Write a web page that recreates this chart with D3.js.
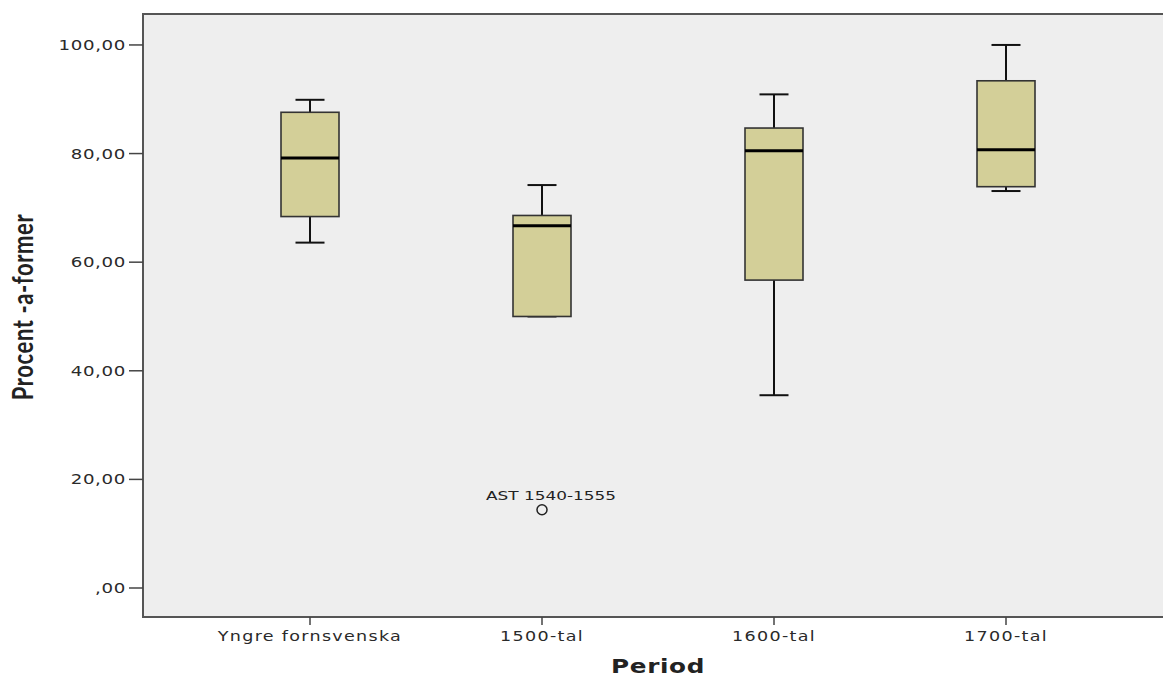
<!DOCTYPE html>
<html>
<head>
<meta charset="utf-8">
<script src="https://cdn.jsdelivr.net/npm/d3@7"></script>
<style>
  body { margin: 0; background: #fff; }
  text { font-family: "DejaVu Sans", sans-serif; fill: #2a2a2a; }
</style>
</head>
<body>
<div id="chart"></div>
<script>
var categories = ["Yngre fornsvenska", "1500-tal", "1600-tal", "1700-tal"];
var whiskerLow  = [63.6, 50.0, 35.5, 73.1];
var q1          = [68.4, 50.0, 56.7, 73.9];
var median      = [79.2, 66.7, 80.5, 80.7];
var q3          = [87.6, 68.6, 84.7, 93.4];
var whiskerHigh = [89.9, 74.2, 90.9, 100.0];
var outlierCats   = ["1500-tal"];
var outlierValues = [14.4];
var outlierLabels = ["AST 1540-1555"];
var yTicks = [0, 20, 40, 60, 80, 100];

var width = 1163, height = 677;
var plot = {left: 143, top: 14, right: 1175, bottom: 617};
var stretch = 1.3; // the glyphs in the source are wide

var svg = d3.select("#chart").append("svg")
    .attr("width", width)
    .attr("height", height);

var x = d3.scalePoint().domain(categories).range([310, 1006]);
var y = d3.scaleLinear().domain([-5.34, 105.7]).range([plot.bottom, plot.top]);

// plot background + frame
svg.append("rect")
    .attr("x", plot.left).attr("y", plot.top)
    .attr("width", plot.right - plot.left).attr("height", plot.bottom - plot.top)
    .attr("fill", "#eeeeee")
    .attr("stroke", "#555").attr("stroke-width", 2);

// y axis ticks
var yt = svg.append("g");
yt.selectAll("line").data(yTicks).enter().append("line")
    .attr("x1", plot.left - 14).attr("x2", plot.left)
    .attr("y1", function(d) { return y(d); }).attr("y2", function(d) { return y(d); })
    .attr("stroke", "#444").attr("stroke-width", 1.5);
yt.selectAll("text").data(yTicks).enter().append("text")
    .attr("transform", function(d) { return "translate(" + (plot.left - 17) + "," + y(d) + ") scale(" + stretch + ",1)"; })
    .attr("text-anchor", "end")
    .attr("dy", "0.36em")
    .style("font-size", "14px").style("letter-spacing", "0.5px")
    .text(function(d) { return (d === 0 ? "" : d) + ",00"; });

// x axis ticks
var xt = svg.append("g");
xt.selectAll("line").data(categories).enter().append("line")
    .attr("x1", function(d) { return x(d); }).attr("x2", function(d) { return x(d); })
    .attr("y1", plot.bottom).attr("y2", plot.bottom + 8)
    .attr("stroke", "#444").attr("stroke-width", 1.5);
xt.selectAll("text").data(categories).enter().append("text")
    .attr("transform", function(d) { return "translate(" + x(d) + "," + (plot.bottom + 24) + ") scale(" + stretch + ",1)"; })
    .attr("text-anchor", "middle")
    .style("font-size", "13.5px").style("letter-spacing", "1px")
    .text(function(d) { return d; });

// axis titles
svg.append("text")
    .attr("transform", "translate(" + 658 + "," + 673 + ") scale(" + stretch + ",1)")
    .attr("text-anchor", "middle")
    .style("font-size", "19px").style("font-weight", "bold").style("fill", "#222")
    .style("letter-spacing", "0.5px")
    .text("Period");
svg.append("text")
    .attr("transform", "translate(" + 33 + "," + 307 + ") scale(" + stretch + ",1) rotate(-90)")
    .attr("text-anchor", "middle")
    .style("font-family", "Lato, sans-serif")
    .style("font-size", "22px").style("font-weight", "bold").style("fill", "#222")
    .style("letter-spacing", "0.6px")
    .text("Procent -a-former");

// boxes
var boxW = 58, capW = 29;
var boxes = svg.append("g").selectAll("g").data(categories).enter().append("g");

boxes.append("line")
    .attr("x1", function(d) { return x(d); }).attr("x2", function(d) { return x(d); })
    .attr("y1", function(d, i) { return y(whiskerLow[i]); })
    .attr("y2", function(d, i) { return y(whiskerHigh[i]); })
    .attr("stroke", "#111").attr("stroke-width", 2);
boxes.append("line")
    .attr("x1", function(d) { return x(d) - capW / 2; }).attr("x2", function(d) { return x(d) + capW / 2; })
    .attr("y1", function(d, i) { return y(whiskerHigh[i]); })
    .attr("y2", function(d, i) { return y(whiskerHigh[i]); })
    .attr("stroke", "#111").attr("stroke-width", 2);
boxes.append("line")
    .attr("x1", function(d) { return x(d) - capW / 2; }).attr("x2", function(d) { return x(d) + capW / 2; })
    .attr("y1", function(d, i) { return y(whiskerLow[i]); })
    .attr("y2", function(d, i) { return y(whiskerLow[i]); })
    .attr("stroke", "#111").attr("stroke-width", 2);
boxes.append("rect")
    .attr("x", function(d) { return x(d) - boxW / 2; })
    .attr("y", function(d, i) { return y(q3[i]); })
    .attr("width", boxW)
    .attr("height", function(d, i) { return y(q1[i]) - y(q3[i]); })
    .attr("fill", "#d3cf98")
    .attr("stroke", "#333").attr("stroke-width", 1.6);
boxes.append("line")
    .attr("x1", function(d) { return x(d) - boxW / 2; }).attr("x2", function(d) { return x(d) + boxW / 2; })
    .attr("y1", function(d, i) { return y(median[i]); })
    .attr("y2", function(d, i) { return y(median[i]); })
    .attr("stroke", "#000").attr("stroke-width", 3);

// outliers
var out = svg.append("g").selectAll("g").data(outlierValues).enter().append("g");
out.append("circle")
    .attr("cx", function(d, i) { return x(outlierCats[i]); })
    .attr("cy", function(d) { return y(d); })
    .attr("r", 5)
    .attr("fill", "none").attr("stroke", "#222").attr("stroke-width", 1.5);
out.append("text")
    .attr("transform", function(d, i) { return "translate(" + (x(outlierCats[i]) + 9) + "," + (y(d) - 10) + ") scale(" + stretch + ",1)"; })
    .attr("text-anchor", "middle")
    .style("font-size", "13px").style("fill", "#222")
    .text(function(d, i) { return outlierLabels[i]; });
</script>
</body>
</html>
